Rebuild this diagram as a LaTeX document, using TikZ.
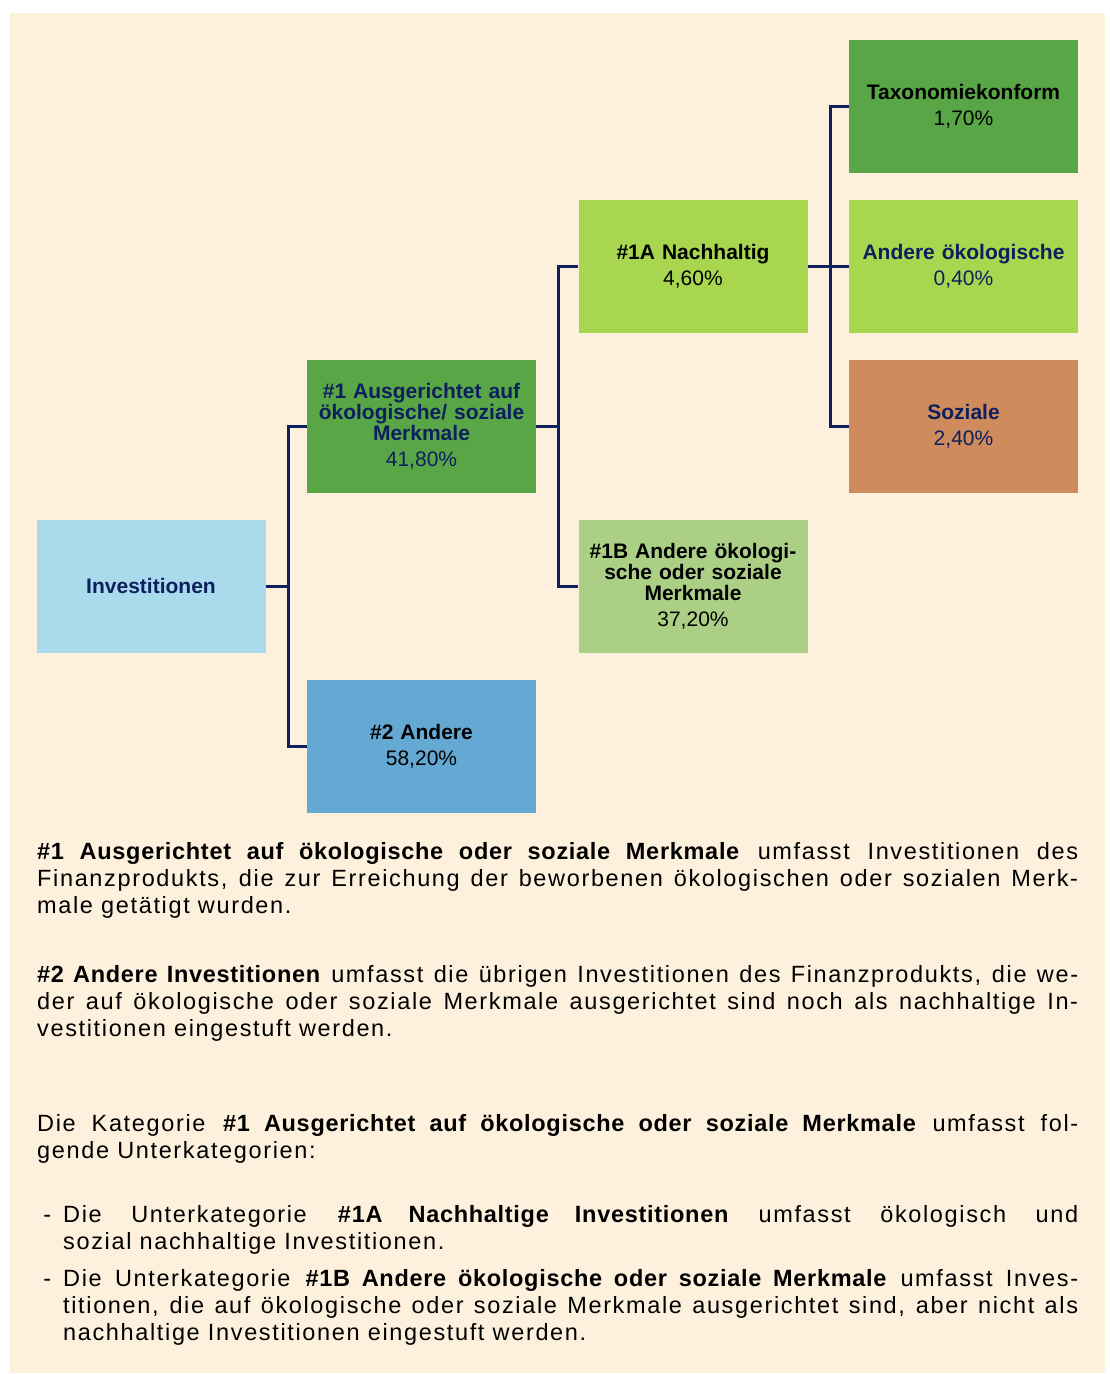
\documentclass[tikz,border=0pt]{standalone}
\usepackage{fontspec}
\setmainfont{Liberation Sans}
\newfontfamily\bodyfont{Liberation Sans}[LetterSpace=7,BoldFeatures={LetterSpace=3}]
\usepackage{tikz}
\usetikzlibrary{positioning,calc}
\usepackage{xcolor}
\definecolor{paper}{HTML}{FDF0DC}
\definecolor{navy}{HTML}{0E1F5E}
\definecolor{invblue}{HTML}{AADBED}
\definecolor{darkgreen}{HTML}{58A646}
\definecolor{lightgreen}{HTML}{A8D64E}
\definecolor{palegreen}{HTML}{ACCF86}
\definecolor{midblue}{HTML}{64A9D3}
\definecolor{terracotta}{HTML}{CF8B5C}

\begin{document}
\begin{tikzpicture}[x=1pt,y=-1pt,
    box/.style={rectangle,inner sep=2pt,minimum width=229pt,minimum height=133pt,
      text width=222pt,align=center,font=\fontsize{21}{21}\selectfont},
    link/.style={navy,line width=3pt},
    para/.style={anchor=base west,inner sep=0pt,text width=1041pt,align=justify,
      font=\bodyfont\fontsize{23.5}{27}\selectfont}]
  \useasboundingbox (0,0) rectangle (1110,1374);
  \fill[white] (0,0) rectangle (1110,1374);
  \fill[paper] (10,13) rectangle (1105,1373);

  % boxes
  \node[box,fill=invblue,text=navy] (inv) at (151,586) {\textbf{Investitionen}};
  \node[box,fill=darkgreen,text=navy] (ausg) at (421.5,426) {%
    \textbf{\#1 Ausgerichtet auf\\ökologische/ soziale\\Merkmale}\\[5pt]41,80\%};
  \node[box,fill=midblue] (andere) at (421.5,746) {\textbf{\#2 Andere}\\[5pt]58,20\%};
  \node[box,fill=lightgreen] (nachh) at (693,266) {\textbf{\#1A Nachhaltig}\\[5pt]4,60\%};
  \node[box,fill=palegreen] (merkm) at (693,586) {%
    \textbf{\#1B Andere ökologi-\\sche oder soziale\\Merkmale}\\[5pt]37,20\%};
  \node[box,fill=darkgreen] (taxo) at (963.5,106) {\textbf{Taxonomiekonform}\\[5pt]1,70\%};
  \node[box,fill=lightgreen,text=navy] (oeko) at (963.5,266) {\textbf{Andere ökologische}\\[5pt]0,40\%};
  \node[box,fill=terracotta,text=navy] (sozi) at (963.5,426) {\textbf{Soziale}\\[5pt]2,40\%};

  % connectors
  \draw[link] (inv.east) -- ++(23,0) |- (ausg.west);
  \draw[link] (inv.east) -- ++(23,0) |- (andere.west);
  \draw[link] (ausg.east) -- ++(22,0) |- (nachh.west);
  \draw[link] (ausg.east) -- ++(22,0) |- (merkm.west);
  \draw[link] (nachh.east) -- ++(23,0) |- (taxo.west);
  \draw[link] (nachh.east) -- ++(23,0) |- (oeko.west);
  \draw[link] (nachh.east) -- ++(23,0) |- (sozi.west);

  % explanations
  \node[para] (txtA) at (37,859) {\textbf{\#1 Ausgerichtet auf ökologische oder soziale Merkmale} umfasst Investitionen des\linebreak
    Finanzprodukts, die zur Erreichung der beworbenen ökologischen oder sozialen Merk-\linebreak
    male getätigt wurden.};
  \node[para] (txtB) at (37,982) {\textbf{\#2 Andere Investitionen} umfasst die übrigen Investitionen des Finanzprodukts, die we-\linebreak
    der auf ökologische oder soziale Merkmale ausgerichtet sind noch als nachhaltige In-\linebreak
    vestitionen eingestuft werden.};
  \node[para] (txtC) at (37,1131) {Die Kategorie \textbf{\#1 Ausgerichtet auf ökologische oder soziale Merkmale} umfasst fol-\linebreak
    gende Unterkategorien:};
  \node[para,text width=1015pt] (txtD) at (63,1222) {\llap{-\hspace{12pt}}Die Unterkategorie \textbf{\#1A Nachhaltige Investitionen} umfasst ökologisch und\linebreak
    sozial nachhaltige Investitionen.};
  \node[para,text width=1015pt] (txtE) at (63,1286) {\llap{-\hspace{12pt}}Die Unterkategorie \textbf{\#1B Andere ökologische oder soziale Merkmale} umfasst Inves-\linebreak
    titionen, die auf ökologische oder soziale Merkmale ausgerichtet sind, aber nicht als\linebreak
    nachhaltige Investitionen eingestuft werden.};
\end{tikzpicture}
\end{document}
